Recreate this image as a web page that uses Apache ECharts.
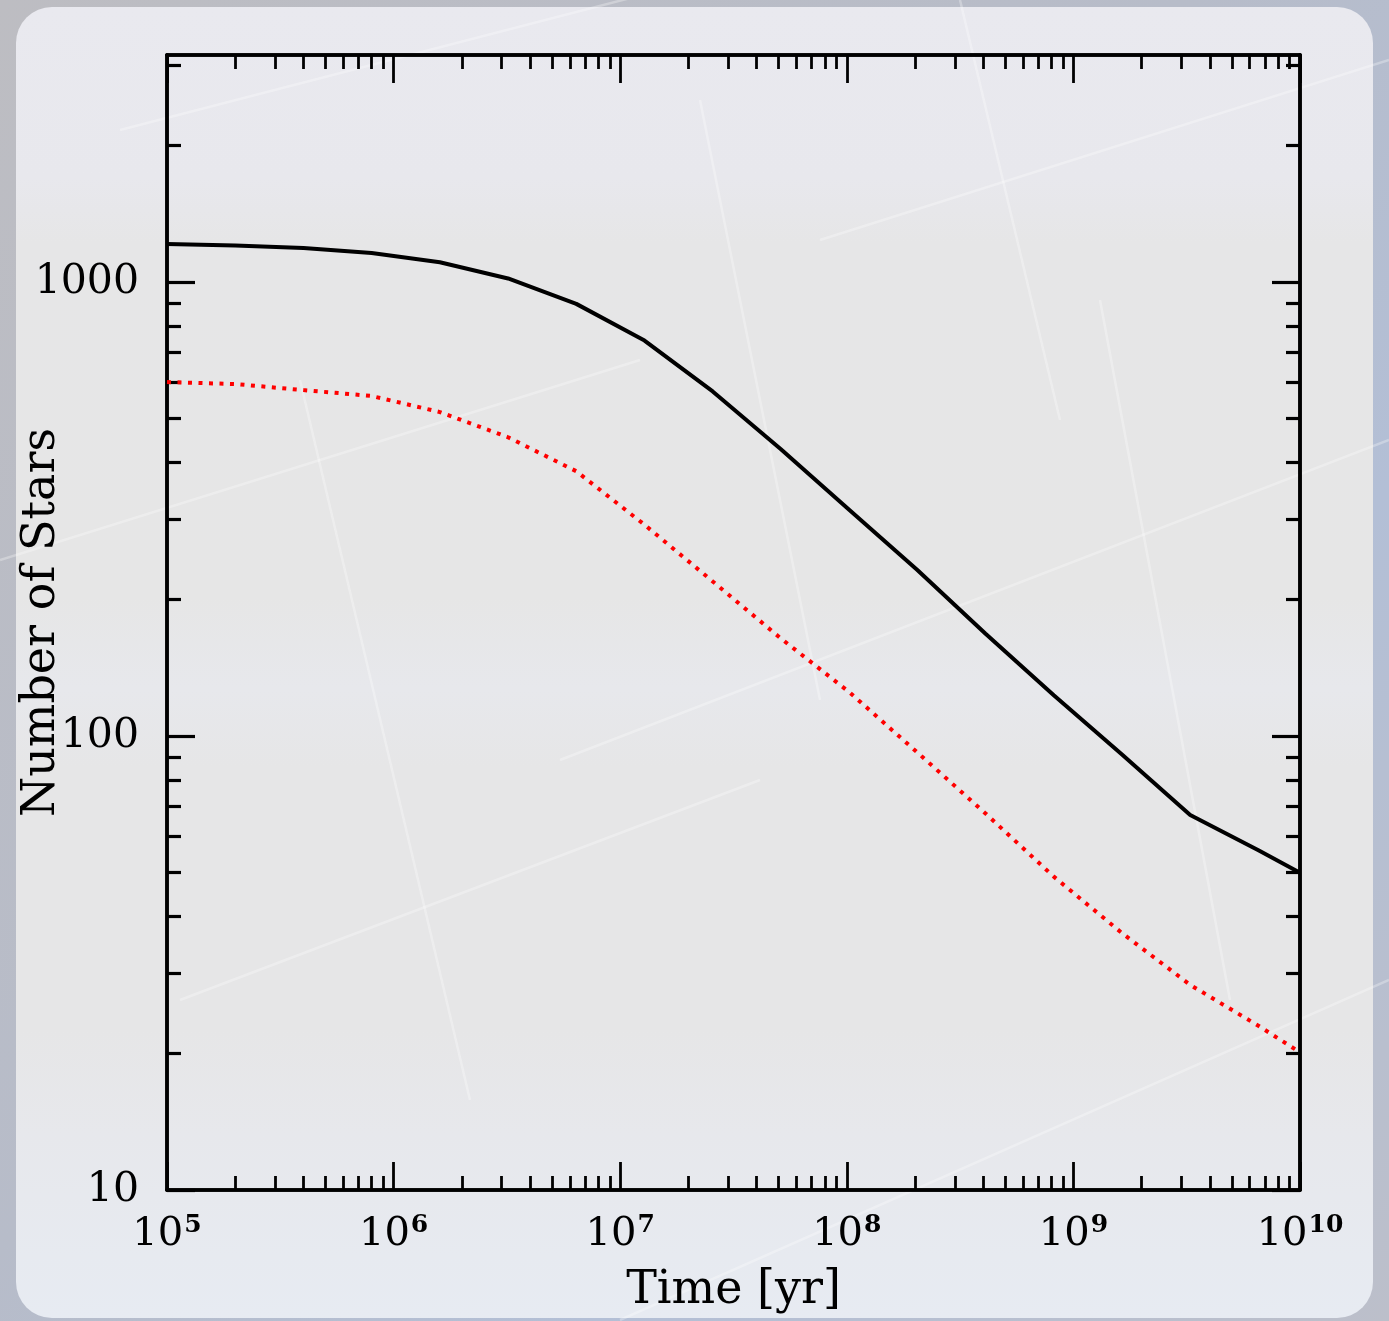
<!DOCTYPE html>
<html>
<head>
<meta charset="utf-8">
<script src="https://cdn.jsdelivr.net/npm/echarts@6/dist/echarts.min.js"></script>
<style>
html,body{margin:0;padding:0;background:#b8bcc8;}
#chart{width:1389px;height:1321px;}
</style>
</head>
<body>
<div id="chart"></div>
<script>
// ---- data ----
const times = [1e5, 2e5, 4e5, 8e5, 1.6e6, 3.2e6, 6.4e6, 1.28e7, 2.56e7, 5.12e7,
  1.024e8, 2.048e8, 4.096e8, 8.192e8, 1.6384e9, 3.2768e9, 6.5536e9, 1e10];
const allStars = [1213, 1203, 1188, 1158, 1105, 1018, 895, 743, 574, 428,
  315, 232, 168, 123, 91, 67, 56, 50];
const subsetStars = [602, 596, 578, 561, 517, 455, 383, 292, 219, 164,
  125, 92, 67.5, 49, 36.8, 28.3, 23.0, 20.1];
const xMajorExponents = [5, 6, 7, 8, 9, 10];
const yMajorTicks = [10, 100, 1000];
const xAxisTitle = 'Time [yr]';
const yAxisTitle = 'Number of Stars';

// ---- derived tick lists ----
const xMajor = xMajorExponents.map(e => Math.pow(10, e));
const xMinor = [];
for (let e = 5; e < 10; e++) for (let m = 2; m <= 9; m++) xMinor.push(m * Math.pow(10, e));
const Y_MIN = 10, Y_MAX = Math.pow(10, 3.5);
const yMinor = [];
for (let e = 1; e <= 3; e++) for (let m = 2; m <= 9; m++) { const v = m * Math.pow(10, e); if (v < Y_MAX) yMinor.push(v); }

const FONT = 'DejaVu Serif';
const X_MIN = 1e5, X_MAX = 1e10;

function xAx(position, ticks, len, extra) {
  return Object.assign({
    type: 'log', logBase: 10, min: X_MIN, max: X_MAX, position: position,
    axisLine: { show: true, lineStyle: { color: '#000', width: 3.5 } },
    axisTick: { show: true, inside: true, length: len, customValues: ticks, lineStyle: { color: '#000', width: 2.8 } },
    axisLabel: { show: false },
    splitLine: { show: false }, minorTick: { show: false }, minorSplitLine: { show: false }
  }, extra || {});
}
function yAx(position, ticks, len, extra) {
  return Object.assign({
    type: 'log', logBase: 10, min: Y_MIN, max: Y_MAX, position: position,
    axisLine: { show: true, lineStyle: { color: '#000', width: 3.5 } },
    axisTick: { show: true, inside: true, length: len, customValues: ticks, lineStyle: { color: '#000', width: 3.2 } },
    axisLabel: { show: false },
    splitLine: { show: false }, minorTick: { show: false }, minorSplitLine: { show: false }
  }, extra || {});
}

const chart = echarts.init(document.getElementById('chart'), null, { renderer: 'canvas' });

// faint decorative streaks on the panel
const streaks = [
  [0, 560, 640, 360], [180, 1000, 760, 780], [560, 760, 1389, 440], [620, 1320, 1389, 980],
  [120, 130, 700, -20], [820, 240, 1389, 60], [300, 380, 470, 1100], [700, 100, 820, 700],
  [1100, 300, 1230, 1000], [960, 0, 1060, 420]
];
const graphics = [
  { type: 'rect', z: -10, silent: true, shape: { x: 0, y: 0, width: 1389, height: 1321 },
    style: { fill: new echarts.graphic.LinearGradient(0, 0, 1, 1, [
      { offset: 0, color: '#bdbdc2' }, { offset: 0.45, color: '#b7bcc9' },
      { offset: 0.7, color: '#b3bfd6' }, { offset: 1, color: '#bcbfca' }]) } },
  { type: 'rect', z: -9, silent: true, shape: { x: 16, y: 7, width: 1357, height: 1311, r: 36 },
    style: { fill: new echarts.graphic.LinearGradient(0, 0, 0, 1, [
      { offset: 0, color: '#e9e9ef' }, { offset: 0.13, color: '#e8e8ed' },
      { offset: 0.18, color: '#e6e6e7' }, { offset: 0.45, color: '#e6e6e6' },
      { offset: 0.52, color: '#e7e8ec' }, { offset: 0.58, color: '#e6e6e7' },
      { offset: 0.78, color: '#e6e6e7' }, { offset: 0.86, color: '#e7e8ec' },
      { offset: 1, color: '#e7ebf2' }]) } }
];
streaks.forEach(s => graphics.push({
  type: 'line', z: -8, silent: true,
  shape: { x1: s[0], y1: s[1], x2: s[2], y2: s[3] },
  style: { stroke: 'rgba(255,255,255,0.3)', lineWidth: 2.5 }
}));

const option = {
  animation: false,
  backgroundColor: 'transparent',
  graphic: graphics,
  grid: { left: 167, right: 89, top: 55, bottom: 131, containLabel: false, outerBoundsMode: 'none' },
  xAxis: [
    xAx('bottom', xMajor, 28, {
      name: xAxisTitle, nameLocation: 'middle', nameGap: 78, nameMoveOverlap: false,
      nameTextStyle: { fontFamily: FONT, fontSize: 46, color: '#000' },
      axisLabel: {
        show: true, customValues: xMajor, margin: 23,
        formatter: v => '{b|10}{s|' + Math.round(Math.log10(v)) + '}',
        rich: {
          b: { fontFamily: FONT, fontSize: 40, color: '#000', lineHeight: 42, verticalAlign: 'bottom' },
          s: { fontFamily: FONT, fontSize: 25, fontWeight: 'bold', color: '#000', lineHeight: 42, verticalAlign: 'top', padding: [0, 0, 0, 1] }
        }
      }
    }),
    xAx('bottom', xMinor, 14),
    xAx('top', xMajor, 28),
    xAx('top', xMinor, 14)
  ],
  yAxis: [
    yAx('left', yMajorTicks, 28, {
      name: yAxisTitle, nameLocation: 'middle', nameGap: 102, nameRotate: 90, nameMoveOverlap: false,
      nameTextStyle: { fontFamily: FONT, fontSize: 46, color: '#000' },
      axisLabel: { show: true, customValues: yMajorTicks, margin: 28,
        fontFamily: FONT, fontSize: 41, color: '#000', formatter: v => String(Math.round(v)) }
    }),
    yAx('left', yMinor, 14),
    yAx('right', yMajorTicks, 28),
    yAx('right', yMinor, 14)
  ],
  series: [
    { type: 'line', name: 'all', xAxisIndex: 0, yAxisIndex: 0, symbol: 'none', z: 3,
      data: times.map((t, i) => [t, allStars[i]]),
      lineStyle: { color: '#000', width: 4 } },
    { type: 'line', name: 'subset', xAxisIndex: 0, yAxisIndex: 0, symbol: 'none', z: 3,
      data: times.map((t, i) => [t, subsetStars[i]]),
      lineStyle: { color: '#ff0000', width: 4, type: [4, 6.5] } }
  ]
};
chart.setOption(option);
</script>
</body>
</html>
